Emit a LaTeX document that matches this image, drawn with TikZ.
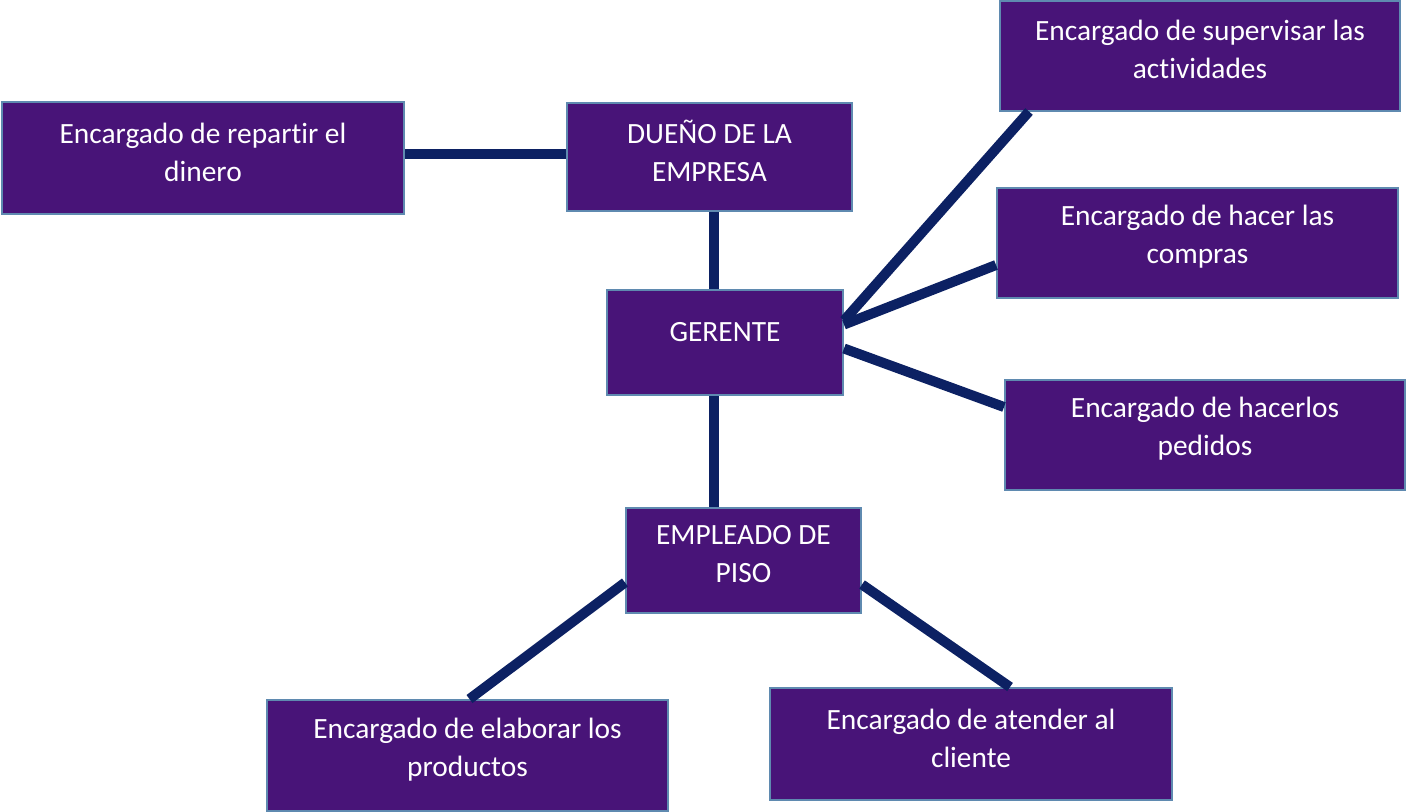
\documentclass[tikz,border=0pt]{standalone}
\usepackage{fontspec}
\setmainfont{Carlito}[Ligatures=NoCommon]
\definecolor{boxfill}{RGB}{72,20,120}
\definecolor{boxline}{RGB}{95,138,176}
\definecolor{linknavy}{RGB}{12,33,99}
\tikzset{cargo/.style={rectangle,draw=boxline,fill=boxfill,line width=1pt,inner sep=0pt}}
\tikzset{texto/.style={text=white,align=center,font=\fontsize{14.7}{19}\selectfont,inner sep=0pt}}
\tikzset{enlace/.style={draw=linknavy,line width=5pt}}

\begin{document}
\begin{tikzpicture}[x=0.5pt,y=-0.5pt]
    \useasboundingbox (0,0) rectangle (1406,811);
    \node[cargo,minimum width=201pt,minimum height=56pt]   (rep) at (203,158) {};
    \node[cargo,minimum width=142.5pt,minimum height=54pt] (due) at (709.5,157) {};
    \node[cargo,minimum width=200pt,minimum height=55pt]   (sup) at (1200,55.5) {};
    \node[cargo,minimum width=118pt,minimum height=52.5pt] (ger) at (725,342.5) {};
    \node[cargo,minimum width=200.5pt,minimum height=55pt] (com) at (1197.5,243) {};
    \node[cargo,minimum width=200pt,minimum height=55pt]   (ped) at (1205,435) {};
    \node[cargo,minimum width=117.5pt,minimum height=52.5pt] (emp) at (743.5,560.5) {};
    \node[cargo,minimum width=200.5pt,minimum height=55.5pt] (ela) at (467.5,755.5) {};
    \node[cargo,minimum width=201pt,minimum height=56pt]   (ate) at (971,744) {};
    \node[texto] (rep-t) at ([yshift=3pt]rep) {Encargado de repartir el\\dinero};
    \node[texto] (due-t) at ([yshift=3pt]due) {DUEÑO DE LA\\EMPRESA};
    \node[texto] (sup-t) at ([yshift=3pt]sup) {Encargado de supervisar las\\actividades};
    \node[texto] (ger-t) at ([yshift=5pt]ger) {GERENTE};
    \node[texto] (com-t) at ([yshift=3pt]com) {Encargado de hacer las\\compras};
    \node[texto] (ped-t) at ([yshift=3pt]ped) {Encargado de hacerlos\\pedidos};
    \node[texto] (emp-t) at ([yshift=3pt]emp) {EMPLEADO DE\\PISO};
    \node[texto] (ela-t) at ([yshift=3pt]ela) {Encargado de elaborar los\\productos};
    \node[texto] (ate-t) at ([yshift=3pt]ate) {Encargado de atender al\\cliente};
    \draw[enlace] ([yshift=2pt]rep.east) -- ([yshift=2pt]rep.east -| due.west);
    \draw[enlace] ([xshift=2pt]due.south) -- ([xshift=2pt]due.south |- ger.north);
    \draw[enlace] ([xshift=2pt]due.south |- ger.south) -- ([xshift=2pt]due.south |- emp.north);
    \draw[enlace] ([yshift=11pt]ger.east) -- ([xshift=15pt]sup.south west);
    \draw[enlace] ([yshift=9pt]ger.east) -- ([yshift=-11pt]com.west);
    \draw[enlace] ([yshift=-3pt]ger.east) -- ([yshift=14pt]ped.west);
    \draw[enlace] ([yshift=-11pt]emp.west) -- ([xshift=1pt]ela.north);
    \draw[enlace] ([yshift=-12pt]emp.east) -- ([xshift=19.5pt]ate.north);
  \end{tikzpicture}
\end{document}
